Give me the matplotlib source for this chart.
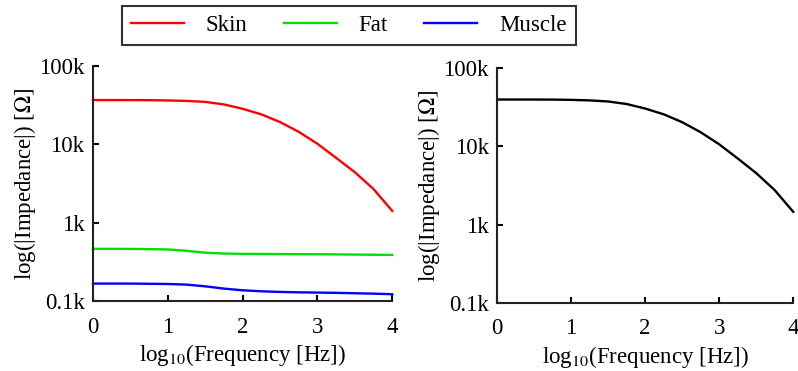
import numpy as np
import matplotlib.pyplot as plt
from matplotlib.lines import Line2D

plt.rcParams['font.family'] = ['Liberation Serif', 'DejaVu Serif']
plt.rcParams['font.size'] = 16.5
plt.rcParams['mathtext.fontset'] = 'stix'

# log10(frequency in Hz)
freq = [0, 0.25, 0.5, 0.75, 1, 1.25, 1.5, 1.75, 2, 2.25, 2.5, 2.75, 3,
        3.25, 3.5, 3.75, 4]

# impedance magnitudes in ohm
skin = [36800, 36800, 36800, 36700, 36400, 35900, 34900, 32400, 28500, 24200,
        19300, 14500, 10200, 6750, 4430, 2700, 1420]
fat = [466, 466, 465, 462, 458, 440, 416, 406, 402, 401, 400, 399, 398,
       396, 394, 392, 390]
muscle = [168, 168, 168, 167, 166, 163, 155, 145, 138, 134, 131.5, 130, 129,
          128, 126.5, 125, 123]
total = [39500, 39500, 39500, 39400, 39100, 38500, 37300, 34600, 30300, 25600,
         20300, 15100, 10600, 7000, 4550, 2760, 1460]

yticks = [100, 1000, 10000, 100000]
ytick_labels = ['0.1k', '1k', '10k', '100k']
xticks = [0, 1, 2, 3, 4]

fig = plt.figure(figsize=(7.98, 3.71), dpi=100)
ax1 = fig.add_axes([0.1165, 0.188, 0.375, 0.634])
ax2 = fig.add_axes([0.623, 0.183, 0.371, 0.634])

ax1.plot(freq, skin, color='#ff0000', linewidth=1.7)
ax1.plot(freq, fat, color='#00e000', linewidth=1.7)
ax1.plot(freq, muscle, color='#0000ff', linewidth=1.7)
ax2.plot(freq, total, color='black', linewidth=1.7)

for ax in (ax1, ax2):
    ax.set_yscale('log')
    ax.set_ylim(100, 100000)
    ax.set_xlim(0, 4)
    ax.set_yticks(yticks)
    ax.set_yticklabels(ytick_labels)
    ax.yaxis.set_minor_locator(plt.NullLocator())
    ax.set_xticks(xticks)
    ax.spines['top'].set_visible(False)
    ax.spines['right'].set_visible(False)
    for s in ('left', 'bottom'):
        ax.spines[s].set_linewidth(1.5)
        ax.spines[s].set_color('#222222')
    ax.tick_params(direction='in', length=4, width=1.5)
    ax.tick_params(axis='y', pad=6)
    ax.tick_params(axis='x', pad=11)
    ax.set_xlabel(r'log$_{10}$(Frequency [Hz])', labelpad=3)
    ax.set_ylabel(r'log(|Impedance|) [$\Omega$]', labelpad=1)
    for ln in ax.lines:
        ln.set_clip_on(False)

handles = [Line2D([], [], color='#ff0000', linewidth=1.7),
           Line2D([], [], color='#00e000', linewidth=1.7),
           Line2D([], [], color='#0000ff', linewidth=1.7)]
leg = fig.legend(handles, ['Skin', 'Fat', 'Muscle'], ncol=3,
                 loc='center', bbox_to_anchor=(0.437, 0.932),
                 frameon=True, fancybox=False, fontsize=16.5,
                 handlelength=2.3, handletextpad=0.95, columnspacing=1.6,
                 borderpad=0.4, borderaxespad=0)
leg.get_frame().set_edgecolor('black')
leg.get_frame().set_linewidth(1.5)

fig.savefig('out.png', dpi=100)
